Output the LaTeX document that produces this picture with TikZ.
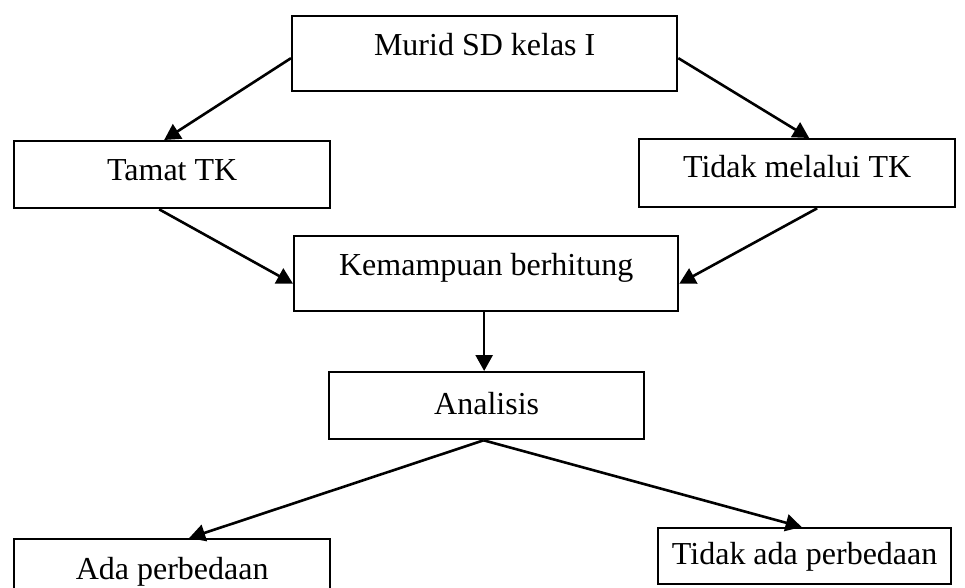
\documentclass[tikz,border=0pt]{standalone}
\usepackage{fontspec}
\setmainfont{Liberation Serif}
\usetikzlibrary{arrows.meta,calc}
\tikzset{
    flow box/.style={rectangle, draw, line width=2.3pt, inner sep=0pt, align=center, anchor=north west, font=\fontsize{32}{38}\selectfont},
    flow arrow/.style={-{Triangle[length=16pt,width=17pt]}, line width=2.6pt}
}
\begin{document}
\begin{tikzpicture}[x=1pt,y=-1pt]
	\useasboundingbox (0,0) rectangle (965,587);
	% boxes
	\node[flow box, minimum width=385pt, text height=39.2pt, text depth=35.8pt] (murid) at (291,15) {Murid SD kelas I};
	\node[flow box, minimum width=316pt, text height=39.2pt, text depth=27.8pt] (tamat) at (13,140) {Tamat TK};
	\node[flow box, minimum width=316pt, text height=38.2pt, text depth=29.8pt] (tidak) at (638,138) {Tidak melalui TK};
	\node[flow box, minimum width=384pt, text height=39.2pt, text depth=35.8pt] (kemampuan) at (293,235) {Kemampuan berhitung};
	\node[flow box, minimum width=315pt, text height=42.2pt, text depth=24.8pt] (analisis) at (328,371) {Analisis};
	\node[flow box, minimum width=316pt, text height=40.2pt, text depth=26.8pt] (ada) at (13,538) {Ada perbedaan};
	\node[flow box, minimum width=293pt, text height=36.2pt, text depth=19.8pt] (tidakada) at (657,527) {Tidak ada perbedaan};
	% arrows
	\draw[flow arrow] ($(murid.west)+(0,4.5)$) -- ($(tamat.north)+(-8,0)$);
	\draw[flow arrow] ($(murid.east)+(0,4.5)$) -- ($(tidak.north)+(12,0)$);
	\draw[flow arrow] ($(tamat.south)+(-13,0)$) -- ($(kemampuan.west)+(0,10)$);
	\draw[flow arrow] ($(tidak.south)+(20,0)$) -- ($(kemampuan.east)+(0,10)$);
	\draw[flow arrow] ($(kemampuan.south)+(-2,0)$) -- ($(analisis.north)+(-2.5,0)$);
	\draw[flow arrow] ($(analisis.south)+(-3,0)$) -- ($(ada.north)+(17,0)$);
	\draw[flow arrow] ($(analisis.south)+(-3,0)$) -- ($(tidakada.north)+(-3,0)$);
\end{tikzpicture}
\end{document}
